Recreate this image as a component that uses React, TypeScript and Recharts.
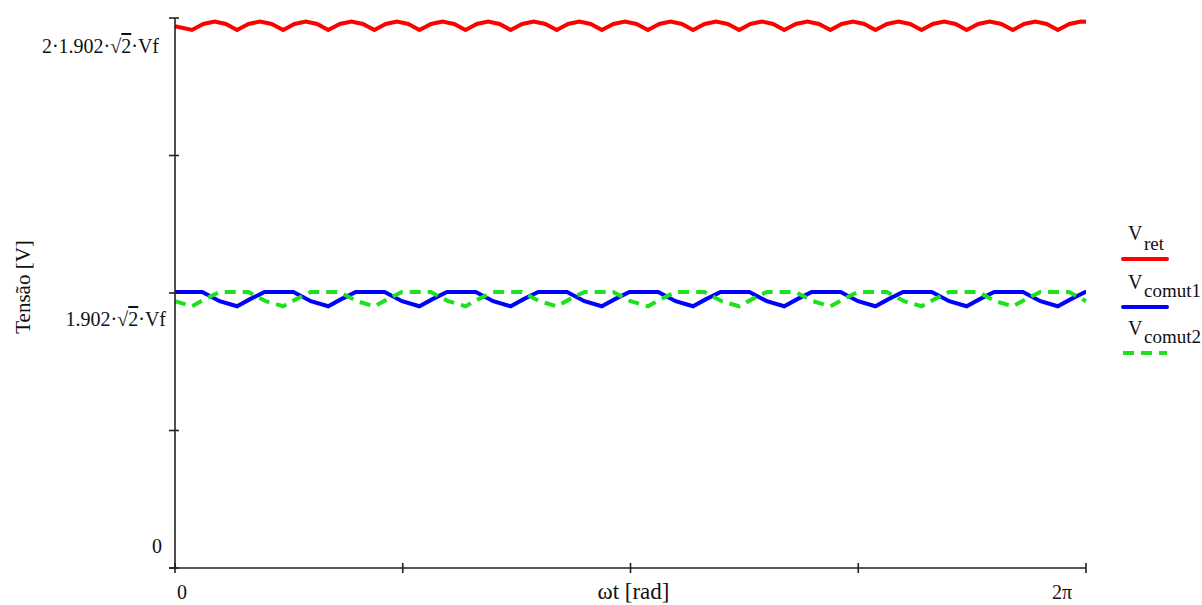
import { LineChart, Line, XAxis, YAxis, Legend } from "recharts";

const TWO_PI = 2 * Math.PI;

// y ticks: 0 .. 2·1.902·√2·Vf (Vf = 1)
const Y_TICKS = [0, 1.345, 2.69, 4.035, 5.38];
const Y_TICK_LABELS = ["0", "", "1.902·√2·Vf", "", "2·1.902·√2·Vf"];
const X_TICKS = [0, Math.PI / 2, Math.PI, (3 * Math.PI) / 2, TWO_PI];
const X_TICK_LABELS = ["0", "", "", "", "2π"];

const SERIES_NAMES = ["ret", "comut1", "comut2"];

// [ωt, V]
const vRet: [number, number][] = [
  [0, 5.3],
  [0.117, 5.263], [0.195, 5.322], [0.273, 5.346], [0.351, 5.322],
  [0.428, 5.263], [0.507, 5.322], [0.587, 5.346], [0.667, 5.322],
  [0.746, 5.263], [0.824, 5.322], [0.902, 5.346], [0.98, 5.322],
  [1.057, 5.263], [1.137, 5.322], [1.216, 5.346], [1.296, 5.322],
  [1.375, 5.263], [1.453, 5.322], [1.531, 5.346], [1.609, 5.322],
  [1.686, 5.263], [1.766, 5.322], [1.845, 5.346], [1.925, 5.322],
  [2.004, 5.263], [2.082, 5.322], [2.16, 5.346], [2.238, 5.322],
  [2.315, 5.263], [2.395, 5.322], [2.474, 5.346], [2.554, 5.322],
  [2.633, 5.263], [2.711, 5.322], [2.789, 5.346], [2.867, 5.322],
  [2.944, 5.263], [3.024, 5.322], [3.103, 5.346], [3.183, 5.322],
  [3.262, 5.263], [3.34, 5.322], [3.418, 5.346], [3.496, 5.322],
  [3.573, 5.263], [3.653, 5.322], [3.732, 5.346], [3.812, 5.322],
  [3.891, 5.263], [3.969, 5.322], [4.047, 5.346], [4.125, 5.322],
  [4.202, 5.263], [4.282, 5.322], [4.361, 5.346], [4.441, 5.322],
  [4.52, 5.263], [4.598, 5.322], [4.676, 5.346], [4.754, 5.322],
  [4.831, 5.263], [4.911, 5.322], [4.99, 5.346], [5.07, 5.322],
  [5.149, 5.263], [5.227, 5.322], [5.305, 5.346], [5.383, 5.322],
  [5.46, 5.263], [5.54, 5.322], [5.619, 5.346], [5.699, 5.322],
  [5.778, 5.263], [5.856, 5.322], [5.934, 5.346], [6.012, 5.322],
  [6.089, 5.263], [6.169, 5.322], [6.248, 5.346], [6.283, 5.343],
];

const vComut1: [number, number][] = [
  [0, 2.7],
  [0.188, 2.7], [0.308, 2.61], [0.428, 2.56], [0.518, 2.63], [0.618, 2.7],
  [0.817, 2.7], [0.937, 2.61], [1.057, 2.56], [1.147, 2.63], [1.247, 2.7],
  [1.446, 2.7], [1.566, 2.61], [1.686, 2.56], [1.776, 2.63], [1.876, 2.7],
  [2.075, 2.7], [2.195, 2.61], [2.315, 2.56], [2.405, 2.63], [2.505, 2.7],
  [2.704, 2.7], [2.824, 2.61], [2.944, 2.56], [3.034, 2.63], [3.134, 2.7],
  [3.333, 2.7], [3.453, 2.61], [3.573, 2.56], [3.663, 2.63], [3.763, 2.7],
  [3.962, 2.7], [4.082, 2.61], [4.202, 2.56], [4.292, 2.63], [4.392, 2.7],
  [4.591, 2.7], [4.711, 2.61], [4.831, 2.56], [4.921, 2.63], [5.021, 2.7],
  [5.22, 2.7], [5.34, 2.61], [5.46, 2.56], [5.55, 2.63], [5.65, 2.7],
  [5.849, 2.7], [5.969, 2.61], [6.089, 2.56], [6.179, 2.63], [6.279, 2.7],
  [6.283, 2.7],
];

const vComut2: [number, number][] = [
  [0, 2.61],
  [0.117, 2.56], [0.207, 2.63], [0.307, 2.7],
  [0.506, 2.7], [0.626, 2.61], [0.746, 2.56], [0.836, 2.63], [0.936, 2.7],
  [1.135, 2.7], [1.255, 2.61], [1.375, 2.56], [1.465, 2.63], [1.565, 2.7],
  [1.764, 2.7], [1.884, 2.61], [2.004, 2.56], [2.094, 2.63], [2.194, 2.7],
  [2.393, 2.7], [2.513, 2.61], [2.633, 2.56], [2.723, 2.63], [2.823, 2.7],
  [3.022, 2.7], [3.142, 2.61], [3.262, 2.56], [3.352, 2.63], [3.452, 2.7],
  [3.651, 2.7], [3.771, 2.61], [3.891, 2.56], [3.981, 2.63], [4.081, 2.7],
  [4.28, 2.7], [4.4, 2.61], [4.52, 2.56], [4.61, 2.63], [4.71, 2.7],
  [4.909, 2.7], [5.029, 2.61], [5.149, 2.56], [5.239, 2.63], [5.339, 2.7],
  [5.538, 2.7], [5.658, 2.61], [5.778, 2.56], [5.868, 2.63], [5.968, 2.7],
  [6.167, 2.7], [6.283, 2.61],
];

const toRows = (pts: [number, number][]) => pts.map(([t, v]) => ({ t, v }));

const FONT = "'Liberation Serif', 'Times New Roman', serif";
const AXIS = "#222";
const COLORS = ["#ff0000", "#0000ff", "#1ee01e"];

const Sqrt2Label = ({ text, ...rest }: any) => {
  const i = text.indexOf("√2");
  if (i < 0) return <text {...rest}>{text}</text>;
  return (
    <text {...rest}>
      <tspan>{text.slice(0, i)}</tspan>
      <tspan>√</tspan>
      <tspan style={{ textDecoration: "overline" }}>2</tspan>
      <tspan>{text.slice(i + 2)}</tspan>
    </text>
  );
};

// label placement per y tick: [dx of right edge, dy of baseline]
const Y_LABEL_POS: Record<number, [number, number]> = {
  0: [-13, -15],
  2: [-9, 33],
  4: [-16, 35],
};

const YTick = ({ x, y, index }: any) => {
  const label = Y_TICK_LABELS[index];
  const pos = Y_LABEL_POS[index];
  return (
    <g>
      <line x1={x - 6} x2={x + 4} y1={y} y2={y} stroke={AXIS} strokeWidth={1.6} />
      {label && pos && (
        <Sqrt2Label
          text={label}
          x={x + pos[0]}
          y={y + pos[1]}
          textAnchor="end"
          fontFamily={FONT}
          fontSize={20}
          fill="#111"
        />
      )}
    </g>
  );
};

const XTick = ({ x, y, index }: any) => {
  const label = X_TICK_LABELS[index];
  const first = index === 0;
  return (
    <g>
      <line x1={x} x2={x} y1={y - 5} y2={y + 5} stroke={AXIS} strokeWidth={1.6} />
      {first && <line x1={x - 6} x2={x} y1={y} y2={y} stroke={AXIS} strokeWidth={1.6} />}
      {label && (
        <text
          x={first ? x + 7 : x - 14}
          y={y + 31}
          textAnchor={first ? "middle" : "end"}
          fontFamily={FONT}
          fontSize={20}
          fill="#111"
        >
          {label}
        </text>
      )}
    </g>
  );
};

const LegendBox = () => {
  const rows = [
    { top: 25, sub: 35, line: 44, dash: undefined },
    { top: 74, sub: 82, line: 92, dash: undefined },
    { top: 120, sub: 128, line: 138, dash: "11 7" },
  ];
  return (
    <svg width={92} height={150} style={{ overflow: "visible" }}>
      {rows.map((r, i) => (
        <g key={SERIES_NAMES[i]}>
          <text x={18} y={r.top} fontFamily={FONT} fontSize={20} fill="#111">V</text>
          <text x={34} y={r.sub} fontFamily={FONT} fontSize={19} fill="#111">{SERIES_NAMES[i]}</text>
          <line
            x1={13}
            x2={57}
            y1={r.line}
            y2={r.line}
            stroke={COLORS[i]}
            strokeWidth={4}
            strokeDasharray={r.dash}
            strokeLinecap={r.dash ? "butt" : "round"}
          />
        </g>
      ))}
    </svg>
  );
};

export default function App() {
  return (
    <div style={{ position: "absolute", left: 0, top: 0, background: "#fff" }}>
      <LineChart width={1202} height={605} margin={{ top: 18, right: 116, bottom: 0, left: 0 }}>
        <XAxis
          type="number"
          dataKey="t"
          domain={[0, TWO_PI]}
          ticks={X_TICKS}
          interval={0}
          height={37}
          tickSize={0}
          tickMargin={0}
          tickLine={false}
          axisLine={{ stroke: AXIS, strokeWidth: 1.6 }}
          tick={<XTick />}
          label={(p: any) => {
            const vb = p.viewBox || {};
            return (
              <text
                x={vb.x + vb.width / 2 + 3}
                y={599}
                textAnchor="middle"
                fontFamily={FONT}
                fontSize={23}
                fill="#111"
              >
                ωt [rad]
              </text>
            );
          }}
        />
        <YAxis
          type="number"
          domain={[0, 5.38]}
          ticks={Y_TICKS}
          interval={0}
          width={175}
          tickSize={0}
          tickMargin={0}
          tickLine={false}
          axisLine={{ stroke: AXIS, strokeWidth: 1.6 }}
          tick={<YTick />}
          label={() => (
            <text
              x={0}
              y={0}
              transform="translate(30, 287) rotate(-90)"
              textAnchor="middle"
              fontFamily={FONT}
              fontSize={21}
              fill="#111"
            >
              Tensão [V]
            </text>
          )}
        />
        <Legend
          layout="horizontal"
          verticalAlign="middle"
          align="center"
          content={() => <LegendBox />}
          wrapperStyle={{ left: 1110, top: 215, width: 92, height: 150 }}
        />
        <Line
          data={toRows(vRet)}
          dataKey="v"
          name="Vret"
          stroke={COLORS[0]}
          strokeWidth={4}
          dot={false}
          type="linear"
          isAnimationActive={false}
        />
        <Line
          data={toRows(vComut1)}
          dataKey="v"
          name="Vcomut1"
          stroke={COLORS[1]}
          strokeWidth={4}
          dot={false}
          type="linear"
          isAnimationActive={false}
        />
        <Line
          data={toRows(vComut2)}
          dataKey="v"
          name="Vcomut2"
          stroke={COLORS[2]}
          strokeWidth={4}
          strokeDasharray="11 7"
          dot={false}
          type="linear"
          isAnimationActive={false}
        />
      </LineChart>
    </div>
  );
}
